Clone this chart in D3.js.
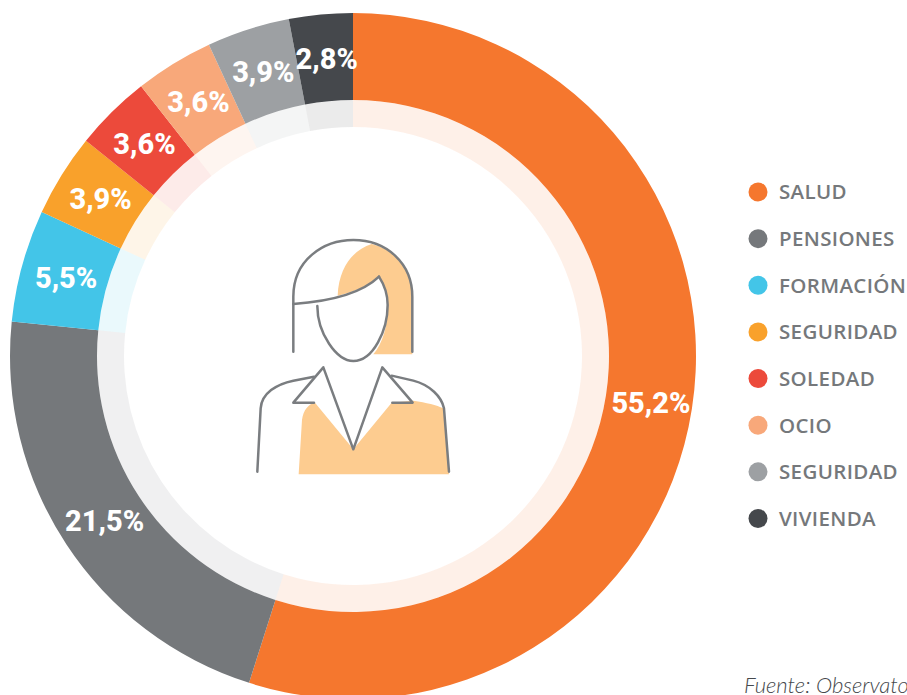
<!DOCTYPE html>
<html><head><meta charset="utf-8">
<script src="https://cdn.jsdelivr.net/npm/d3@7/dist/d3.min.js"></script>
<style>html,body{margin:0;padding:0;background:#fff;overflow:hidden}svg{display:block}</style>
</head><body><div id="chart"></div>
<script>
const categories = ["SALUD","PENSIONES","FORMACIÓN","SEGURIDAD","SOLEDAD","OCIO","SEGURIDAD","VIVIENDA"];
// Shares as drawn in the picture (the ring's spans differ slightly from its printed labels)
const values = [54.9,21.7,5.3,3.9,3.6,3.7,3.9,3.0];
const labels = ["55,2%","21,5%","5,5%","3,9%","3,6%","3,6%","3,9%","2,8%"];
const colors = ["#f5772e","#75787b","#43c5e8","#f9a12b","#ec4a3b","#f8a87a","#9da0a3","#45484c"];
const sourceText = "Fuente: Observatorio";

const W = 907, H = 695, cx = 353, cy = 356;
const svg = d3.select("#chart").append("svg").attr("width",W).attr("height",H);
const pie = d3.pie().sort(null).value(d=>d)(values);
const outer = d3.arc().innerRadius(256).outerRadius(343);
const ring = d3.arc().innerRadius(229).outerRadius(256);
const g = svg.append("g").attr("transform",`translate(${cx},${cy})`);
g.selectAll("path.ring").data(pie).join("path").attr("class","ring").attr("d",ring)
  .attr("fill",(d,i)=>colors[i]).attr("fill-opacity",0.11);
g.selectAll("path.slice").data(pie).join("path").attr("class","slice").attr("d",outer)
  .attr("fill",(d,i)=>colors[i]);
g.selectAll("text").data(pie).join("text")
  .attr("transform",d=>{const [x,y]=outer.centroid(d);return `translate(${x+2},${y+1})`;})
  .attr("text-anchor","middle").attr("dominant-baseline","central")
  .attr("font-family","Roboto, sans-serif").attr("font-weight",800).attr("font-size",29)
  .attr("fill","#fff").text((d,i)=>labels[i]);

// Person icon
const icon = svg.append("g").attr("transform","translate(240,230) scale(0.3333)");
const fillC="#fdcc90", lineC="#7a7d80";
icon.append("path").attr("fill",fillC).attr("d","M293 197C297 110 340 60 395 42C470 60 515 120 517 200L517 373L400 373C430 340 445 280 443 220C440 190 430 160 417 140C385 170 340 185 293 197Z");
icon.append("path").attr("fill",fillC).attr("d","M176 733L186 570C190 540 205 522 225 518L340 658L455 518L520 512C560 518 590 525 610 535L627 733Z");
const lines=[
 "M160 365L160 200C160 90 250 30 340 30C440 30 517 100 517 200L517 365",
 "M160 222C260 215 360 195 417 140",
 "M232 228C232 310 290 393 340 393C400 393 443 300 443 225C443 190 430 160 417 140",
 "M222 518L160 518L250 412L340 658L427 412L518 518L457 518",
 "M52 725L62 535C65 490 110 462 160 452L222 440",
 "M455 437L520 452C570 465 605 500 612 535L627 725"];
icon.selectAll("path.l").data(lines).join("path").attr("class","l").attr("d",d=>d)
  .attr("fill","none").attr("stroke",lineC).attr("stroke-width",7.5)
  .attr("stroke-linecap","round").attr("stroke-linejoin","round");

// Legend
const ly = d3.scalePoint().domain(d3.range(categories.length)).range([192,518.5]);
const leg = svg.append("g").selectAll("g").data(categories).join("g")
  .attr("transform",(d,i)=>`translate(758,${ly(i)})`);
leg.append("circle").attr("r",9.5).attr("fill",(d,i)=>colors[i]);
leg.append("text").attr("x",21).attr("y",-0.7).attr("dominant-baseline","central")
  .attr("font-family","'Open Sans', sans-serif").attr("font-weight",600).attr("font-size",20.5)
  .attr("letter-spacing",0.35).attr("fill","#75787b").text(d=>d);

svg.append("text").attr("x",744).attr("y",693)
  .attr("font-family","Lato, sans-serif").attr("font-style","italic").attr("font-weight",300)
  .attr("font-size",22).attr("fill","#45484c").text(sourceText);
</script></body></html>
